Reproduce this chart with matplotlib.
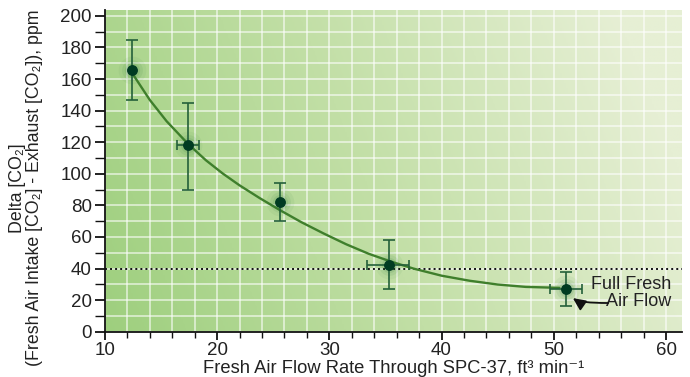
import numpy as np
import matplotlib
matplotlib.use("Agg")
from matplotlib import pyplot as plt
from matplotlib.colors import LinearSegmentedColormap
from matplotlib.ticker import MultipleLocator

plt.rcParams['font.family'] = ['Liberation Sans', 'DejaVu Sans']

# measured points
flow = [12.4, 17.4, 25.6, 35.3, 51.1]
delta = [166, 118, 82, 42, 27]
delta_lo = [147, 90, 70, 27, 16]
delta_hi = [185, 145, 94, 58, 38]
flow_lo = [12.4, 16.4, 25.6, 33.4, 49.7]
flow_hi = [12.4, 18.4, 25.6, 37.1, 52.5]

# fitted curve
fit_x = [12.5, 14.0, 15.5, 17.4, 19.0, 20.5, 22.0, 23.8, 25.6, 27.5,
         29.5, 31.5, 33.5, 35.5, 37.5, 40.0, 42.5, 45.0, 47.5, 50.5]
fit_y = [163, 146.8, 133.3, 119, 108.6, 100.2, 92.7, 84.6, 77, 69.4,
         62.2, 55.4, 49.4, 44.4, 40, 35.5, 32.3, 29.9, 28.4, 27.8]

threshold = 40

fig = plt.figure(figsize=(6.9, 3.77), dpi=100)
ax = fig.add_axes([0.152, 0.120, 0.836, 0.853])

xmin, xmax, ymin, ymax = 10, 61.4, 0, 203.6

# background gradient, dark green lower left to pale upper right
gx, gy = np.meshgrid(np.linspace(0, 1, 300), np.linspace(0, 1, 200))
grad = np.clip(0.9 * gx + 0.2 * gy, 0, 1)
cmap = LinearSegmentedColormap.from_list('bg', ['#9ecf7e', '#c2dfa6', '#e6efd4'])
ax.imshow(grad, cmap=cmap, extent=[xmin, xmax, ymin, ymax], origin='lower',
          aspect='auto', zorder=0, interpolation='bilinear')

ax.set_xlim(xmin, xmax)
ax.set_ylim(ymin, ymax)
ax.xaxis.set_major_locator(MultipleLocator(10))
ax.xaxis.set_minor_locator(MultipleLocator(2))
ax.yaxis.set_major_locator(MultipleLocator(20))
ax.yaxis.set_minor_locator(MultipleLocator(10))
ax.grid(which='both', color='white', lw=1.1, alpha=0.7, zorder=0.5)
ax.set_axisbelow(True)

for s in ['top', 'right']:
    ax.spines[s].set_visible(False)
for s in ['left', 'bottom']:
    ax.spines[s].set_color('#111111')
    ax.spines[s].set_linewidth(1.3)
ax.tick_params(axis='x', which='major', direction='out', length=6, width=1.3,
               labelsize=13.5, colors='#111111', labelcolor='#222222', pad=1.5)
ax.tick_params(axis='y', which='major', direction='out', length=7, width=1.3,
               labelsize=13.5, colors='#111111', labelcolor='#222222', pad=2.5)
ax.tick_params(axis='y', which='minor', direction='out', length=7, width=1.0,
               colors='#111111')
ax.tick_params(axis='x', which='minor', direction='out', length=4.5, width=1.0,
               colors='#111111')

ax.axhline(threshold, color='#111111', ls=(0, (1, 1.6)), lw=1.4, zorder=2)

ax.plot(fit_x, fit_y, color='#3f7f2c', lw=1.7, zorder=3,
        solid_capstyle='round', solid_joinstyle='round')

# soft halo around the points
for ms, a in [(20, 0.06), (15, 0.09), (11, 0.12)]:
    ax.plot(flow, delta, 'o', ms=ms, color='#2f7a3a', alpha=a, mec='none', zorder=3.5)

x = np.array(flow)
y = np.array(delta)
yerr = [y - np.array(delta_lo), np.array(delta_hi) - y]
xerr = [x - np.array(flow_lo), np.array(flow_hi) - x]
ax.errorbar(x, y, yerr=yerr, fmt='none', ecolor='#24603a', elinewidth=1.2,
            capsize=4, capthick=1.2, zorder=4)
has_x = x - np.array(flow_lo) > 0
ax.errorbar(x[has_x], y[has_x], xerr=[e[has_x] for e in xerr], fmt='none',
            ecolor='#24603a', elinewidth=1.2, capsize=3.5, capthick=1.2, zorder=4)
ax.plot(flow, delta, 'o', ms=6.8, color='#003b22', mec='#003b22', zorder=5)

ax.text(60.5, 24.5, 'Full Fresh\nAir Flow', ha='right', va='center',
        fontsize=13, color='#222222', linespacing=1.05, zorder=6)
ax.annotate('', xy=(51.7, 21.3), xytext=(54.85, 18.2),
            arrowprops=dict(arrowstyle='-|>,head_length=0.75,head_width=0.35',
                            color='#111111', lw=1.3,
                            connectionstyle='angle3,angleA=0,angleB=-35',
                            shrinkA=0, shrinkB=0),
            zorder=6)

ax.set_xlabel('Fresh Air Flow Rate Through SPC-37, ft³ min⁻¹', fontsize=13.2,
              color='#222222', labelpad=0.5)
ax.set_ylabel('Delta [CO₂]\n(Fresh Air Intake [CO₂] - Exhaust [CO₂]), ppm',
              fontsize=12.8, color='#222222', linespacing=1.0)
ax.yaxis.set_label_coords(-0.108, 0.448)

fig.savefig('out.png', dpi=100)
